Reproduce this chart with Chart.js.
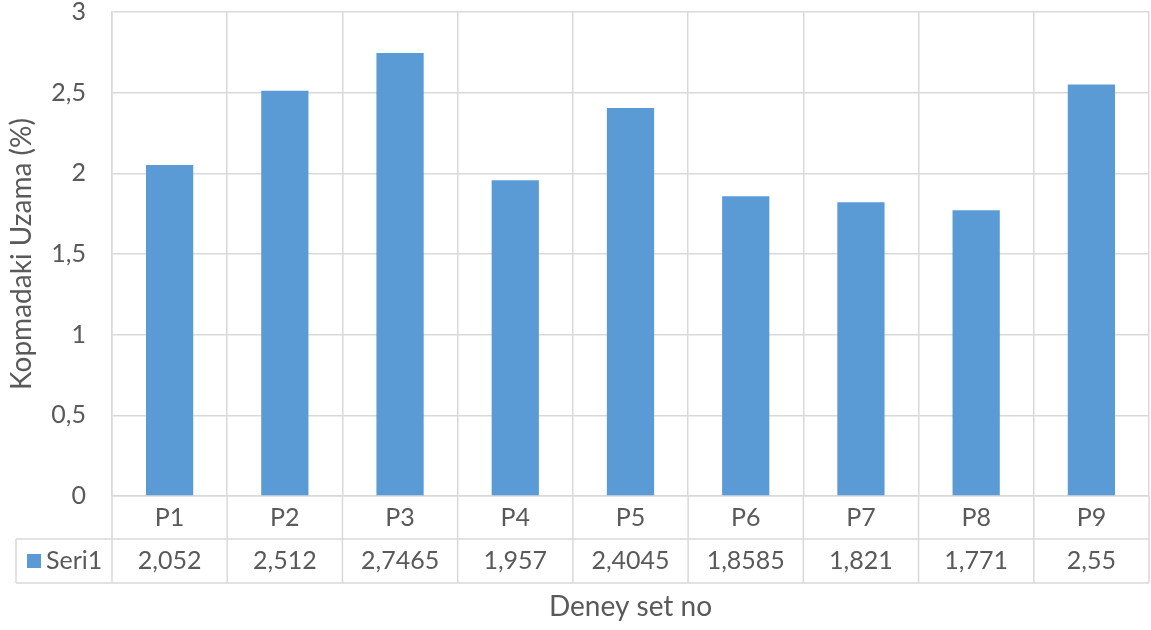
<!DOCTYPE html>
<html lang="tr">
<head>
<meta charset="utf-8">
<title>Kopmadaki Uzama</title>
<script src="https://cdn.jsdelivr.net/npm/chart.js@4.4.1/dist/chart.umd.min.js"></script>
<style>
    html, body { margin: 0; padding: 0; background: #fff; }
    #grafik { display: block; }
</style>
</head>
<body>
<canvas id="grafik" width="1151" height="630"></canvas>
<script>
// Veriler
const kategoriler = ['P1', 'P2', 'P3', 'P4', 'P5', 'P6', 'P7', 'P8', 'P9'];
const seri1 = [2.052, 2.512, 2.7465, 1.957, 2.4045, 1.8585, 1.821, 1.771, 2.55];
const seriAdi = 'Seri1';
const yMin = 0;
const yMax = 3;
const yAdim = 0.5;

const yaziRengi = '#595959';
const cizgiRengi = '#d9d9d9';
const barRengi = '#5b9bd5';
const yaziTipi = 'Lato, "Liberation Sans", sans-serif';

// sayıyı Türkçe ondalık virgülle yaz
function virgullu(v) {
    return String(v).replace('.', ',');
}

// Grafiğin altındaki veri tablosu (Excel tarzı)
const veriTablosu = {
    id: 'veriTablosu',
    afterDraw(chart) {
        const ctx = chart.ctx;
        const alan = chart.chartArea;
        const x = chart.scales.x;
        const ust = alan.bottom;
        const satir1 = ust + 43;
        const satir2 = ust + 87;
        const solKenar = 16;

        ctx.save();
        ctx.strokeStyle = cizgiRengi;
        ctx.lineWidth = 1.5;

        // yatay çizgiler
        ctx.beginPath();
        ctx.moveTo(solKenar, satir1);
        ctx.lineTo(alan.right, satir1);
        ctx.moveTo(solKenar, satir2);
        ctx.lineTo(alan.right, satir2);
        // sol kenar
        ctx.moveTo(solKenar, satir1);
        ctx.lineTo(solKenar, satir2);
        // kategori sınırları
        const sinirlar = [alan.left];
        for (let i = 1; i < kategoriler.length; i++) {
            sinirlar.push((x.getPixelForValue(i - 1) + x.getPixelForValue(i)) / 2);
        }
        sinirlar.push(alan.right);
        sinirlar.forEach(px => {
            ctx.moveTo(px, ust);
            ctx.lineTo(px, satir2);
        });
        ctx.stroke();

        // lejant kutusu ve seri adı
        const ortaY = (satir1 + satir2) / 2;
        ctx.fillStyle = barRengi;
        ctx.fillRect(27, ortaY - 7, 14, 14);
        ctx.fillStyle = yaziRengi;
        ctx.font = '25px ' + yaziTipi;
        ctx.textBaseline = 'middle';
        ctx.textAlign = 'left';
        ctx.fillText(seriAdi, 46, ortaY);

        // değerler
        ctx.textAlign = 'center';
        seri1.forEach((v, i) => {
            ctx.fillText(virgullu(v), x.getPixelForValue(i), ortaY);
        });
        ctx.restore();
    }
};

const ctx = document.getElementById('grafik');
new Chart(ctx, {
    type: 'bar',
    data: {
        labels: kategoriler,
        datasets: [{
            label: seriAdi,
            data: seri1,
            backgroundColor: barRengi,
            borderWidth: 0,
            barPercentage: 0.41,
            categoryPercentage: 1
        }]
    },
    options: {
        responsive: false,
        animation: false,
        layout: {
            padding: { top: 0, right: 2, left: 0, bottom: 0 }
        },
        plugins: {
            legend: { display: false },
            tooltip: { enabled: false }
        },
        scales: {
            y: {
                min: yMin,
                max: yMax,
                ticks: {
                    stepSize: yAdim,
                    color: yaziRengi,
                    font: { family: yaziTipi, size: 25 },
                    padding: 2,
                    callback: v => virgullu(v)
                },
                grid: {
                    color: cizgiRengi,
                    lineWidth: 1.5,
                    drawTicks: true,
                    tickLength: 24,
                    tickColor: 'rgba(0,0,0,0)'
                },
                border: { color: cizgiRengi, width: 1.5 },
                title: {
                    display: true,
                    text: 'Kopmadaki Uzama (%)',
                    color: yaziRengi,
                    font: { family: yaziTipi, size: 28 },
                    padding: { top: 5, bottom: 0 }
                },
                afterFit(scale) {
                    scale.width = 112;
                    scale.paddingTop = 12;
                    scale.paddingBottom = 0;
                }
            },
            x: {
                ticks: {
                    color: yaziRengi,
                    font: { family: yaziTipi, size: 25 },
                    padding: 7
                },
                grid: {
                    color: cizgiRengi,
                    lineWidth: 1.5,
                    offset: true,
                    drawTicks: false
                },
                border: { color: cizgiRengi, width: 1.5 },
                title: {
                    display: true,
                    text: 'Deney set no',
                    color: yaziRengi,
                    font: { family: yaziTipi, size: 28 },
                    padding: { top: 0, bottom: 6 }
                },
                afterFit(scale) {
                    scale.height = 134;
                }
            }
        }
    },
    plugins: [veriTablosu]
});
</script>
</body>
</html>
